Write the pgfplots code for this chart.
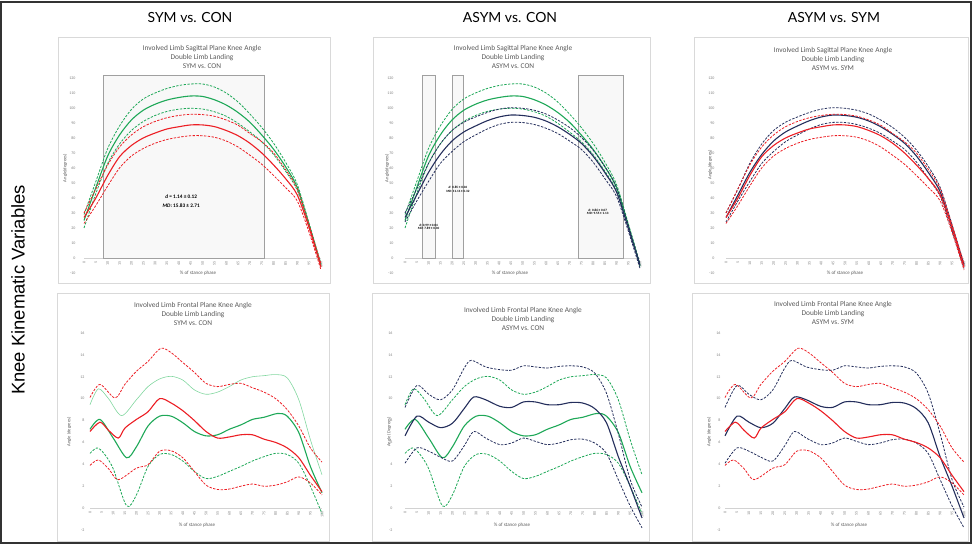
\documentclass[border=0pt]{standalone}
\usepackage{pgfplots}
\pgfplotsset{compat=1.18}
\usepackage{fontspec}
\setmainfont{Carlito}
\newfontfamily\headfont{Lato}
\newfontfamily\rowfont{Liberation Sans}
\definecolor{cgreen}{RGB}{30,168,88}
\definecolor{clgreen}{RGB}{130,215,160}
\definecolor{cred}{RGB}{236,30,36}
\definecolor{cnavy}{RGB}{36,46,92}
\definecolor{txtgray}{RGB}{89,89,89}
\definecolor{tickgray}{RGB}{128,128,128}
\definecolor{framegray}{RGB}{217,217,217}
\definecolor{boxgray}{RGB}{160,160,160}
\definecolor{boxfill}{RGB}{248,248,248}

\pgfplotsset{
  panel/.style={
    scale only axis, anchor=south west, xmin=0, xmax=100,
    axis x line*=middle, axis y line*=left,
    x axis line style={draw=gray!35, line width=0.4pt},
    y axis line style={draw=none},
    major tick length=0pt,
    hide obscured x ticks=false, hide obscured y ticks=false,
    xtick={0,5,...,100},
    /pgf/number format/assume math mode=true,
    ticklabel style={font=\fontsize{4}{4}\selectfont, text=tickgray},
    xticklabel style={rotate=90, anchor=east},
    clip=false,
  },
  sag/.style={panel, ymin=-10, ymax=120, ytick={-10,0,...,120}, height=195bp},
  fro/.style={panel, ymin=-2, ymax=16, ytick={-2,0,...,16}, height=197bp},
  mean/.style={line width=1.1bp, smooth},
  sd/.style={line width=0.8bp, dash pattern=on 2.4bp off 1.4bp, smooth},
}
\newcommand{\ttl}[3]{\node[align=center, text=txtgray, font=\fontsize{7.4}{9.4}\selectfont] at (#1,#2) {#3};}
\newcommand{\ylab}[3]{\node[rotate=90, text=txtgray, font=\fontsize{4.6}{5}\selectfont] at (#1,#2) {#3};}
\newcommand{\xlab}[2]{\node[text=txtgray, font=\fontsize{5}{5}\selectfont] at (#1,#2) {\% of stance phase};}

\begin{document}
\begin{tikzpicture}[x=1bp,y=1bp]
\useasboundingbox (0,0) rectangle (980,545);
\draw[line width=1.2bp, black!80] (1,2) rectangle (971,543);
% panel frames
\draw[framegray, line width=0.6bp] (58,262) rectangle (330,508);
\draw[framegray, line width=0.6bp] (373,262) rectangle (650,508);
\draw[framegray, line width=0.6bp] (694,262) rectangle (968,508);
\draw[framegray, line width=0.6bp] (57,4) rectangle (329,252);
\draw[framegray, line width=0.6bp] (372,4) rectangle (649,252);
\draw[framegray, line width=0.6bp] (692,4) rectangle (968,252);
% headers
\node[font=\headfont\fontsize{14}{14}\selectfont] at (190,527) {SYM vs. CON};
\node[font=\headfont\fontsize{14}{14}\selectfont] at (510,527) {ASYM vs. CON};
\node[font=\headfont\fontsize{14}{14}\selectfont] at (834,527) {ASYM vs. SYM};
\node[rotate=90, font=\rowfont\fontsize{18.5}{18.5}\selectfont] at (18,255) {Knee Kinematic Variables};
% titles
\ttl{202}{488}{Involved Limb Sagittal Plane Knee Angle\\Double Limb Landing\\SYM vs.\ CON}
\ttl{513}{488}{Involved Limb Sagittal Plane Knee Angle\\Double Limb Landing\\ASYM vs.\ CON}
\ttl{833}{486}{Involved Limb Sagittal Plane Knee Angle\\Double Limb Landing\\ASYM vs.\ SYM}
\ttl{193}{231}{Involved Limb Frontal Plane Knee Angle\\Double Limb Landing\\SYM vs.\ CON}
\ttl{523}{226}{Involved Limb Frontal Plane Knee Angle\\Double Limb Landing\\ASYM vs.\ CON}
\ttl{833}{232}{Involved Limb Frontal Plane Knee Angle\\Double Limb Landing\\ASYM vs.\ SYM}
% axis labels
\ylab{65}{377}{Angle(degrees)}
\ylab{387}{377}{Angle(degrees)}
\ylab{710}{380}{Angle (degrees)}
\ylab{69}{113}{Angle (degrees)}
\ylab{389}{113}{Angle (Degrees)}
\ylab{709}{113}{Angle (degrees)}
\xlab{198}{272}
\xlab{510}{272}
\xlab{845}{272}
\xlab{197}{20}
\xlab{512}{20}
\xlab{849}{20}

% ================= Panel 1: sagittal SYM vs CON
\begin{axis}[sag, at={(84bp,272bp)}, width=237bp, yticklabel style={xshift=-5bp}]
\draw[draw=boxgray, fill=boxfill, line width=0.7bp] (axis cs:8,0) rectangle (axis cs:76,122);
\addplot[sd, cgreen] coordinates {(0,29)(5,51)(10,73)(15,88)(20,99)(25,106)(30,110)(35,113)(40,115)(45,116)(50,116)(55,114)(60,110)(65,104)(70,96)(75,87)(80,76.5)(85,64)(90,49)(95,23)(100,-4)};
\addplot[mean, cgreen] coordinates {(0,25)(5,47)(10,68)(15,82)(20,92)(25,98.5)(30,102.5)(35,105.3)(40,107)(45,108)(50,107.7)(55,105.5)(60,102)(65,97)(70,90.5)(75,82)(80,72.5)(85,61)(90,47)(95,22)(100,-5)};
\addplot[sd, cgreen] coordinates {(0,20)(5,43)(10,63)(15,76)(20,85)(25,91)(30,95)(35,97.7)(40,99.2)(45,99.8)(50,99.3)(55,97.5)(60,94.5)(65,89.8)(70,84)(75,77.5)(80,69)(85,58)(90,45)(95,21)(100,-6)};
\addplot[sd, cred] coordinates {(0,30)(5,46)(10,62)(15,74)(20,82)(25,87.5)(30,91)(35,93.5)(40,95)(45,95.8)(50,95.6)(55,94.5)(60,92)(65,88.5)(70,83)(75,77.5)(80,70)(85,59)(90,46)(95,22)(100,-4)};
\addplot[mean, cred] coordinates {(0,27)(5,40)(10,55)(15,67.5)(20,75)(25,80)(30,83.3)(35,86)(40,87.5)(45,88.7)(50,88.7)(55,87.6)(60,85)(65,81.5)(70,76.5)(75,70)(80,62)(85,53)(90,42)(95,20)(100,-6)};
\addplot[sd, cred] coordinates {(0,23)(5,35)(10,48)(15,60)(20,68)(25,73)(30,76.5)(35,79)(40,80.5)(45,81.5)(50,81.5)(55,80.5)(60,78)(65,74)(70,68.5)(75,62.5)(80,55)(85,47)(90,38)(95,17)(100,-8)};
\node[font=\bfseries\fontsize{5.3}{5.3}\selectfont] at (axis cs:41,40.7) {\textit{d} = 1.14 ± 0.12};
\node[font=\bfseries\fontsize{5.3}{5.3}\selectfont] at (axis cs:41,35) {\textit{MD}: 15.83 ± 2.71};
\end{axis}

% ================= Panel 2: sagittal ASYM vs CON
\begin{axis}[sag, at={(405bp,272bp)}, width=235bp, yticklabel style={xshift=-8bp}]
\draw[draw=boxgray, fill=boxfill, line width=0.7bp] (axis cs:7.2,0) rectangle (axis cs:12.8,122);
\draw[draw=boxgray, fill=boxfill, line width=0.7bp] (axis cs:20,0) rectangle (axis cs:24.7,122);
\draw[draw=boxgray, fill=boxfill, line width=0.7bp] (axis cs:73.6,0) rectangle (axis cs:92.7,122);
\addplot[sd, cgreen] coordinates {(0,29)(5,51)(10,73)(15,88)(20,99)(25,106)(30,110)(35,113)(40,115)(45,116)(50,116)(55,114)(60,110)(65,104)(70,96)(75,87)(80,76.5)(85,64)(90,49)(95,23)(100,-4)};
\addplot[mean, cgreen] coordinates {(0,25)(5,47)(10,68)(15,82)(20,92)(25,98.5)(30,102.5)(35,105.3)(40,107)(45,108)(50,107.7)(55,105.5)(60,102)(65,97)(70,90.5)(75,82)(80,72.5)(85,61)(90,47)(95,22)(100,-5)};
\addplot[sd, cgreen] coordinates {(0,20)(5,43)(10,63)(15,76)(20,85)(25,91)(30,95)(35,97.7)(40,99.2)(45,99.8)(50,99.3)(55,97.5)(60,94.5)(65,89.8)(70,84)(75,77.5)(80,69)(85,58)(90,45)(95,21)(100,-6)};
\addplot[sd, cnavy] coordinates {(0,30)(5,46)(10,63)(15,76)(20,85)(25,90.5)(30,94)(35,97)(40,99.2)(45,100.2)(50,99.8)(55,98.5)(60,96)(65,92)(70,87)(75,80.5)(80,72)(85,61)(90,47)(95,22)(100,-4)};
\addplot[mean, cnavy] coordinates {(0,27)(5,42)(10,57)(15,69)(20,78)(25,84)(30,88)(35,91.5)(40,94)(45,95.3)(50,95)(55,93.8)(60,91.3)(65,87.5)(70,82.5)(75,76.5)(80,68)(85,57)(90,44)(95,20)(100,-5)};
\addplot[sd, cnavy] coordinates {(0,24)(5,38)(10,51)(15,63)(20,71)(25,77.5)(30,82)(35,86)(40,89)(45,90.4)(50,90.3)(55,89)(60,86.5)(65,83)(70,78)(75,72.5)(80,64)(85,53)(90,41)(95,18)(100,-7)};
\node[font=\bfseries\fontsize{3.3}{3.8}\selectfont, align=center] at (axis cs:10,20.8) {\textit{d}: 0.99 ± 0.04\\\textit{MD}: 7.89 ± 0.30};
\node[font=\bfseries\fontsize{3.3}{3.8}\selectfont, align=center] at (axis cs:22.5,45.5) {\textit{d}: 0.85 ± 0.04\\\textit{MD}: 11.11 ± 0.32};
\node[font=\bfseries\fontsize{3.3}{3.8}\selectfont, align=center] at (axis cs:82,30.8) {\textit{d}: 0.86 ± 0.07\\\textit{MD}: 9.55 ± 1.13};
\end{axis}

% ================= Panel 3: sagittal ASYM vs SYM
\begin{axis}[sag, at={(726bp,272bp)}, width=238bp, yticklabel style={xshift=-8bp}]
\addplot[sd, cnavy] coordinates {(0,30)(5,46)(10,63)(15,76)(20,85)(25,90.5)(30,94)(35,97)(40,99.2)(45,100.2)(50,99.8)(55,98.5)(60,96)(65,92)(70,87)(75,80.5)(80,72)(85,61)(90,47)(95,22)(100,-4)};
\addplot[mean, cnavy] coordinates {(0,27)(5,42)(10,57)(15,69)(20,78)(25,84)(30,88)(35,91.5)(40,94)(45,95.3)(50,95)(55,93.8)(60,91.3)(65,87.5)(70,82.5)(75,76.5)(80,68)(85,57)(90,44)(95,20)(100,-5)};
\addplot[sd, cnavy] coordinates {(0,24)(5,38)(10,51)(15,63)(20,71)(25,77.5)(30,82)(35,86)(40,89)(45,90.4)(50,90.3)(55,89)(60,86.5)(65,83)(70,78)(75,72.5)(80,64)(85,53)(90,41)(95,18)(100,-7)};
\addplot[sd, cred] coordinates {(0,30)(5,46)(10,62)(15,74)(20,82)(25,87.5)(30,91)(35,93.5)(40,95)(45,95.8)(50,95.6)(55,94.5)(60,92)(65,88.5)(70,83)(75,77.5)(80,70)(85,59)(90,46)(95,22)(100,-4)};
\addplot[mean, cred] coordinates {(0,27)(5,40)(10,55)(15,67.5)(20,75)(25,80)(30,83.3)(35,86)(40,87.5)(45,88.7)(50,88.7)(55,87.6)(60,85)(65,81.5)(70,76.5)(75,70)(80,62)(85,53)(90,42)(95,20)(100,-6)};
\addplot[sd, cred] coordinates {(0,23)(5,35)(10,48)(15,60)(20,68)(25,73)(30,76.5)(35,79)(40,80.5)(45,81.5)(50,81.5)(55,80.5)(60,78)(65,74)(70,68.5)(75,62.5)(80,55)(85,47)(90,38)(95,17)(100,-8)};
\end{axis}

% ================= Panel 4: frontal SYM vs CON
\begin{axis}[fro, at={(90bp,15bp)}, width=232bp, yticklabel style={xshift=-2bp}]
\addplot[line width=0.6bp, clgreen, smooth] coordinates {(0,9.45)(3.6,10.9)(8,10.0)(13.6,8.45)(20,9.9)(25,11.1)(30,11.8)(35,12.04)(40,11.7)(45,10.8)(50,10.4)(55,10.6)(60,11.1)(65,11.7)(70,12.0)(75,12.1)(80,12.2)(85,11.9)(90,9.9)(95,6.25)(100,3.05)};
\addplot[mean, cgreen] coordinates {(0,7.2)(4.3,8.1)(10,6.4)(15.8,4.6)(20,5.6)(25,7.5)(30,8.4)(35,8.4)(40,7.8)(45,7.0)(50,6.6)(55,6.7)(60,7.2)(65,7.6)(70,8.1)(75,8.3)(81,8.65)(85,8.4)(90,6.9)(95,3.8)(100,1.4)};
\addplot[sd, cgreen] coordinates {(0,5.0)(3,5.5)(6,5.0)(10,3.6)(15.8,0.2)(20,1.2)(25,3.8)(30,4.9)(35,4.9)(40,4.3)(45,3.35)(50,2.7)(55,2.9)(60,3.35)(65,3.8)(70,4.3)(75,4.7)(80,5.0)(85,4.9)(90,4.1)(95,2.0)(100,-0.5)};
\addplot[sd, cred] coordinates {(0,10.1)(4.3,11.3)(10.8,10.06)(15,11.3)(20,12.5)(25,13.4)(30.5,14.6)(35,14.2)(40,13.3)(45,12.4)(50,11.4)(55,11.1)(60,11.3)(65,11.4)(70,11.0)(75,10.6)(80,10.0)(85,9.0)(90,7.5)(95,5.5)(100,4.2)};
\addplot[mean, cred] coordinates {(0,7.0)(4.3,7.85)(8,7.1)(12.2,6.4)(15,7.3)(20,8.1)(25,8.8)(30,10.0)(35,9.6)(40,8.9)(45,8.0)(50,7.0)(55,6.4)(60,6.5)(65,6.7)(70,6.7)(75,6.3)(80,6.0)(85,5.5)(90,4.6)(95,3.0)(100,1.5)};
\addplot[sd, cred] coordinates {(0,3.9)(3.6,4.4)(8,3.6)(12.2,2.6)(20,3.65)(25,3.96)(30,5.2)(35,5.24)(40,4.6)(45,3.35)(50,2.1)(55,1.7)(60,1.74)(65,2.0)(70,2.2)(75,2.0)(80,2.1)(85,2.4)(90,2.85)(95,2.3)(100,1.2)};
\end{axis}

% ================= Panel 5: frontal ASYM vs CON
\begin{axis}[fro, at={(405bp,15bp)}, width=237bp, yticklabel style={xshift=-9bp}]
\addplot[sd, cgreen] coordinates {(0,9.45)(3.6,10.9)(8,10.0)(13.6,8.45)(20,9.9)(25,11.1)(30,11.8)(35,12.04)(40,11.7)(45,10.8)(50,10.4)(55,10.6)(60,11.1)(65,11.7)(70,12.0)(75,12.1)(80,12.2)(85,11.9)(90,9.9)(95,6.25)(100,3.05)};
\addplot[mean, cgreen] coordinates {(0,7.2)(4.3,8.1)(10,6.4)(15.8,4.6)(20,5.6)(25,7.5)(30,8.4)(35,8.4)(40,7.8)(45,7.0)(50,6.6)(55,6.7)(60,7.2)(65,7.6)(70,8.1)(75,8.3)(81,8.65)(85,8.4)(90,6.9)(95,3.8)(100,1.4)};
\addplot[sd, cgreen] coordinates {(0,5.0)(3,5.5)(6,5.0)(10,3.6)(15.8,0.2)(20,1.2)(25,3.8)(30,4.9)(35,4.9)(40,4.3)(45,3.35)(50,2.7)(55,2.9)(60,3.35)(65,3.8)(70,4.3)(75,4.7)(80,5.0)(85,4.9)(90,4.1)(95,2.0)(100,-0.5)};
\addplot[sd, cnavy] coordinates {(0,9.2)(5,11.2)(10,10.4)(15,9.9)(20,10.8)(25,12.8)(28,13.5)(34,12.9)(40,12.65)(45,12.6)(50,13.0)(55,12.9)(60,12.8)(65,12.95)(70,13.0)(75,12.9)(80,12.35)(85,10.5)(90,6.8)(95,2.6)(100,0.1)};
\addplot[mean, cnavy] coordinates {(0,6.6)(5,8.4)(10,7.85)(15,7.35)(20,7.75)(25,9.1)(29,10.15)(34,9.9)(40,9.3)(45,9.2)(50,9.7)(55,9.7)(60,9.45)(65,9.45)(70,9.65)(75,9.6)(80,9.1)(85,7.8)(90,4.7)(95,2.0)(100,-0.9)};
\addplot[sd, cnavy] coordinates {(0,4.1)(5,5.5)(10,5.2)(15,4.65)(20,4.3)(25,5.7)(29,7.0)(34,6.4)(40,5.8)(45,5.95)(50,6.4)(55,6.1)(60,5.8)(65,5.95)(70,6.25)(75,6.3)(80,5.95)(85,5.0)(90,2.6)(95,0.2)(100,-1.8)};
\end{axis}

% ================= Panel 6: frontal ASYM vs SYM
\begin{axis}[fro, at={(725bp,15bp)}, width=239bp, yticklabel style={xshift=-1bp}]
\addplot[sd, cnavy] coordinates {(0,9.2)(5,11.2)(10,10.4)(15,9.9)(20,10.8)(25,12.8)(28,13.5)(34,12.9)(40,12.65)(45,12.6)(50,13.0)(55,12.9)(60,12.8)(65,12.95)(70,13.0)(75,12.9)(80,12.35)(85,10.5)(90,6.8)(95,2.6)(100,0.1)};
\addplot[mean, cnavy] coordinates {(0,6.6)(5,8.4)(10,7.85)(15,7.35)(20,7.75)(25,9.1)(29,10.15)(34,9.9)(40,9.3)(45,9.2)(50,9.7)(55,9.7)(60,9.45)(65,9.45)(70,9.65)(75,9.6)(80,9.1)(85,7.8)(90,4.7)(95,2.0)(100,-0.9)};
\addplot[sd, cnavy] coordinates {(0,4.1)(5,5.5)(10,5.2)(15,4.65)(20,4.3)(25,5.7)(29,7.0)(34,6.4)(40,5.8)(45,5.95)(50,6.4)(55,6.1)(60,5.8)(65,5.95)(70,6.25)(75,6.3)(80,5.95)(85,5.0)(90,2.6)(95,0.2)(100,-1.8)};
\addplot[sd, cred] coordinates {(0,10.1)(4.3,11.3)(10.8,10.06)(15,11.3)(20,12.5)(25,13.4)(30.5,14.6)(35,14.2)(40,13.3)(45,12.4)(50,11.4)(55,11.1)(60,11.3)(65,11.4)(70,11.0)(75,10.6)(80,10.0)(85,9.0)(90,7.5)(95,5.5)(100,4.2)};
\addplot[mean, cred] coordinates {(0,7.0)(4.3,7.85)(8,7.1)(12.2,6.4)(15,7.3)(20,8.1)(25,8.8)(30,10.0)(35,9.6)(40,8.9)(45,8.0)(50,7.0)(55,6.4)(60,6.5)(65,6.7)(70,6.7)(75,6.3)(80,6.0)(85,5.5)(90,4.6)(95,3.0)(100,1.5)};
\addplot[sd, cred] coordinates {(0,3.9)(3.6,4.4)(8,3.6)(12.2,2.6)(20,3.65)(25,3.96)(30,5.2)(35,5.24)(40,4.6)(45,3.35)(50,2.1)(55,1.7)(60,1.74)(65,2.0)(70,2.2)(75,2.0)(80,2.1)(85,2.4)(90,2.85)(95,2.3)(100,1.2)};
\end{axis}
\end{tikzpicture}
\end{document}
